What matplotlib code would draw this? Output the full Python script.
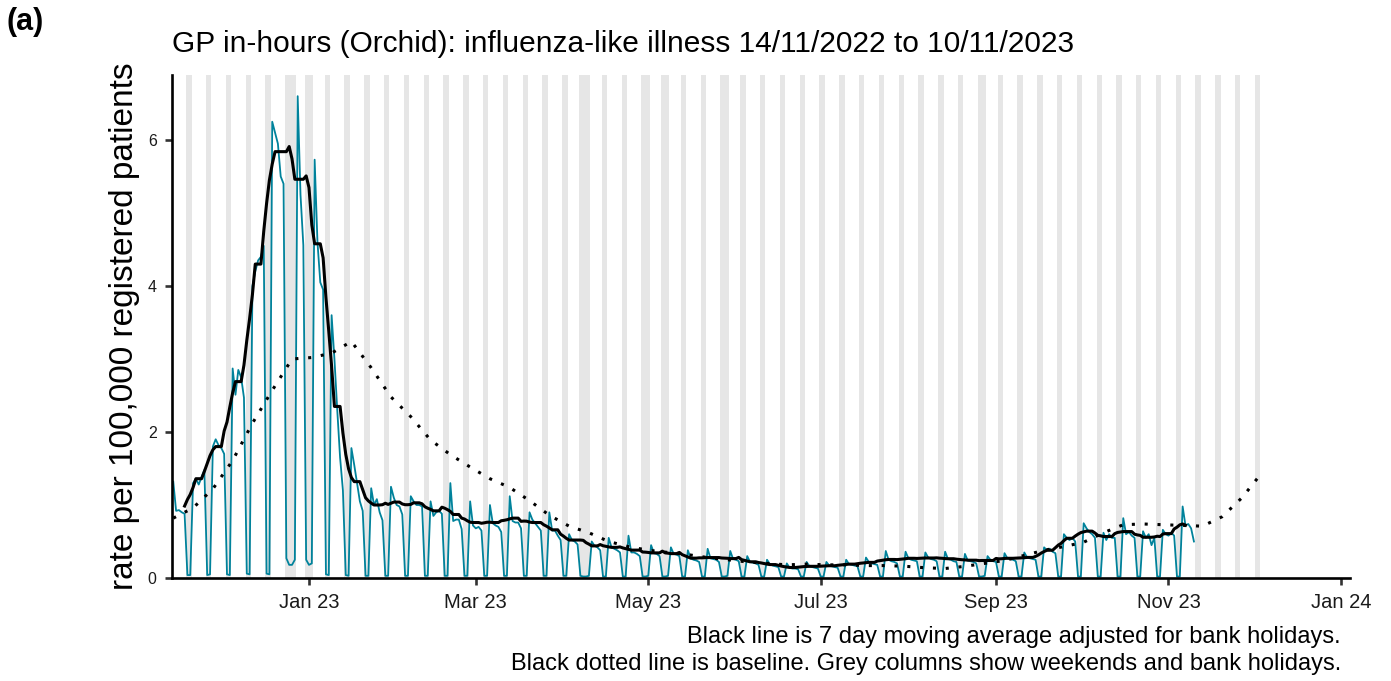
# GP in-hours influenza-like illness rate, Nov 2022 - Nov 2023
import numpy as np
import pandas as pd
import matplotlib
matplotlib.use('Agg')
import matplotlib.pyplot as plt
import matplotlib.dates as mdates

plt.rcParams['font.family'] = ['Liberation Sans', 'DejaVu Sans']

start_date = '2022-11-14'

# daily rate per 100,000, one row per week (Mon..Sun)
rate = [
    1.32, 0.92, 0.93, 0.90, 0.88, 0.04, 0.04,
    1.30, 1.36, 1.28, 1.38, 1.48, 0.04, 0.05,
    1.80, 1.90, 1.82, 1.78, 1.70, 0.05, 0.04,
    2.87, 2.51, 2.85, 2.75, 2.47, 0.06, 0.05,
    4.00, 4.20, 4.35, 4.40, 4.55, 0.06, 0.05,
    6.25, 6.10, 5.95, 5.50, 5.40, 0.27, 0.18,
    0.18, 0.25, 6.60, 5.25, 4.56, 0.25, 0.18,
    0.20, 5.73, 4.60, 4.05, 3.95, 0.05, 0.04,
    3.60, 3.00, 2.30, 1.65, 1.20, 0.04, 0.03,
    1.78, 1.55, 1.30, 1.05, 0.92, 0.03, 0.03,
    1.23, 1.00, 1.08, 0.90, 0.79, 0.03, 0.03,
    1.25, 1.10, 1.00, 0.98, 0.87, 0.03, 0.03,
    1.12, 1.05, 1.00, 1.00, 0.98, 0.03, 0.03,
    1.05, 0.85, 0.90, 0.92, 0.88, 0.03, 0.03,
    1.30, 0.78, 0.80, 0.80, 0.67, 0.03, 0.03,
    1.05, 0.72, 0.68, 0.70, 0.65, 0.03, 0.03,
    1.00, 0.75, 0.72, 0.70, 0.63, 0.03, 0.03,
    1.12, 0.78, 0.76, 0.76, 0.68, 0.03, 0.03,
    0.90, 0.80, 0.75, 0.70, 0.65, 0.03, 0.03,
    0.90, 0.65, 0.65, 0.58, 0.52, 0.03, 0.03,
    0.60, 0.52, 0.50, 0.46, 0.03, 0.02, 0.02,
    0.03, 0.50, 0.44, 0.42, 0.38, 0.02, 0.02,
    0.55, 0.42, 0.40, 0.38, 0.35, 0.02, 0.02,
    0.58, 0.35, 0.35, 0.33, 0.30, 0.02, 0.02,
    0.03, 0.45, 0.34, 0.33, 0.30, 0.02, 0.02,
    0.03, 0.42, 0.33, 0.32, 0.30, 0.02, 0.02,
    0.38, 0.27, 0.25, 0.24, 0.22, 0.02, 0.02,
    0.40, 0.27, 0.26, 0.25, 0.22, 0.02, 0.02,
    0.03, 0.37, 0.26, 0.25, 0.23, 0.02, 0.02,
    0.30, 0.22, 0.21, 0.20, 0.18, 0.02, 0.02,
    0.25, 0.19, 0.17, 0.16, 0.15, 0.02, 0.02,
    0.20, 0.14, 0.13, 0.13, 0.12, 0.02, 0.02,
    0.22, 0.16, 0.15, 0.14, 0.13, 0.02, 0.02,
    0.22, 0.17, 0.16, 0.15, 0.14, 0.02, 0.02,
    0.25, 0.19, 0.18, 0.17, 0.16, 0.02, 0.02,
    0.28, 0.22, 0.20, 0.19, 0.18, 0.02, 0.02,
    0.37, 0.25, 0.23, 0.22, 0.20, 0.02, 0.02,
    0.36, 0.27, 0.25, 0.24, 0.23, 0.02, 0.02,
    0.35, 0.28, 0.26, 0.25, 0.23, 0.02, 0.02,
    0.36, 0.26, 0.25, 0.23, 0.22, 0.02, 0.02,
    0.33, 0.24, 0.23, 0.22, 0.20, 0.02, 0.02,
    0.03, 0.30, 0.25, 0.23, 0.22, 0.02, 0.02,
    0.34, 0.27, 0.26, 0.25, 0.23, 0.02, 0.02,
    0.35, 0.28, 0.27, 0.26, 0.25, 0.02, 0.02,
    0.42, 0.38, 0.40, 0.36, 0.34, 0.02, 0.02,
    0.60, 0.55, 0.52, 0.55, 0.50, 0.02, 0.02,
    0.75, 0.68, 0.63, 0.60, 0.55, 0.02, 0.02,
    0.62, 0.52, 0.60, 0.55, 0.55, 0.02, 0.02,
    0.82, 0.60, 0.63, 0.58, 0.55, 0.02, 0.02,
    0.64, 0.55, 0.60, 0.45, 0.55, 0.02, 0.02,
    0.66, 0.60, 0.58, 0.62, 0.58, 0.02, 0.02,
    0.98, 0.72, 0.74, 0.68, 0.50,
]

bank_holidays = ['2022-12-26', '2022-12-27', '2023-01-02', '2023-04-07',
                 '2023-04-10', '2023-05-01', '2023-05-08', '2023-05-29',
                 '2023-08-28']

# baseline, weekly (Mondays) from start_date
baseline = [0.82, 0.96, 1.22, 1.61, 2.12, 2.57, 3.00, 3.02, 3.08, 3.24,
            2.88, 2.48, 2.21, 1.89, 1.69, 1.52, 1.36, 1.24, 1.06, 0.86,
            0.71, 0.62, 0.50, 0.43, 0.38, 0.35, 0.32, 0.28, 0.25, 0.22,
            0.20, 0.18, 0.19, 0.18, 0.18, 0.17, 0.17, 0.16, 0.14, 0.13,
            0.16, 0.20, 0.24, 0.31, 0.38, 0.43, 0.49, 0.62, 0.73, 0.74,
            0.73, 0.72, 0.71, 0.84, 1.10, 1.44]

shade_end = '2023-12-03'

dates = pd.date_range(start_date, periods=len(rate), freq='D')
s = pd.Series(rate, index=dates)
hol = pd.to_datetime(bank_holidays)

# moving average: mean of last 5 working days, centred (shifted back 3 days)
working = (dates.dayofweek < 5) & ~dates.isin(hol)
ma = s[working].rolling(5).mean().reindex(dates).ffill().shift(-3)
ma.iloc[:4] = np.nan

base_dates = pd.date_range(start_date, periods=len(baseline), freq='7D')

all_days = pd.date_range(start_date, shade_end, freq='D')
shade = all_days[(all_days.dayofweek >= 5) | all_days.isin(hol)]
runs = []
for d in shade:
    if runs and (d - runs[-1][1]).days == 1:
        runs[-1][1] = d
    else:
        runs.append([d, d])

ytop = 6.89
fig = plt.figure(figsize=(13.91, 6.81), dpi=100)
ax = fig.add_axes([172/1391, 1-578/681, (1350-172)/1391, (578-75)/681])

for a, b in runs:
    ax.axvspan(mdates.date2num(a) - 0.45, mdates.date2num(b) + 0.45,
               color='#e6e6e6', lw=0, zorder=1)
ax.plot(dates, rate, color='#00829b', lw=1.3, zorder=2)
ax.plot(base_dates, baseline, color='black', lw=2.2, linestyle=(0, (1, 3.2)),
        dash_capstyle='butt', zorder=3)
ax.plot(ma.index, ma.values, color='black', lw=2.2, zorder=4)

x0 = mdates.date2num(pd.Timestamp(start_date))
ax.set_xlim(x0 - 0.45, mdates.date2num(pd.Timestamp('2024-01-04')) + 0.2)
ax.set_ylim(0, ytop)

ticks = pd.to_datetime(['2023-01-01', '2023-03-01', '2023-05-01', '2023-07-01',
                        '2023-09-01', '2023-11-01', '2024-01-01'])
ax.set_xticks(ticks)
ax.xaxis.set_major_formatter(mdates.DateFormatter('%b %y'))
ax.set_yticks([0, 2, 4, 6])

for side in ['top', 'right']:
    ax.spines[side].set_visible(False)
for side in ['left', 'bottom']:
    ax.spines[side].set_linewidth(1.9)
    ax.spines[side].set_color('black')
ax.tick_params(axis='both', length=5, width=1.9, color='#333333')
ax.tick_params(axis='x', labelsize=14.5, pad=5.5, labelcolor='#1a1a1a')
ax.tick_params(axis='y', labelsize=11.5, pad=6, labelcolor='#1a1a1a')

fig.text(125/1391, 1-326.5/681, 'rate per 100,000 registered patients',
         rotation=90, ha='center', va='center', fontsize=24)
fig.text(172/1391, 1-52/681,
         'GP in-hours (Orchid): influenza-like illness 14/11/2022 to 10/11/2023',
         ha='left', va='baseline', fontsize=21.5)
fig.text(7/1391, 1-30/681, '(a)', ha='left', va='baseline', fontsize=22,
         fontweight='bold')
fig.text(1341/1391, 1-643/681,
         'Black line is 7 day moving average adjusted for bank holidays.',
         ha='right', va='baseline', fontsize=17)
fig.text(1341/1391, 1-670/681,
         'Black dotted line is baseline. Grey columns show weekends and bank holidays.',
         ha='right', va='baseline', fontsize=17)

fig.savefig('out.png', dpi=100)
